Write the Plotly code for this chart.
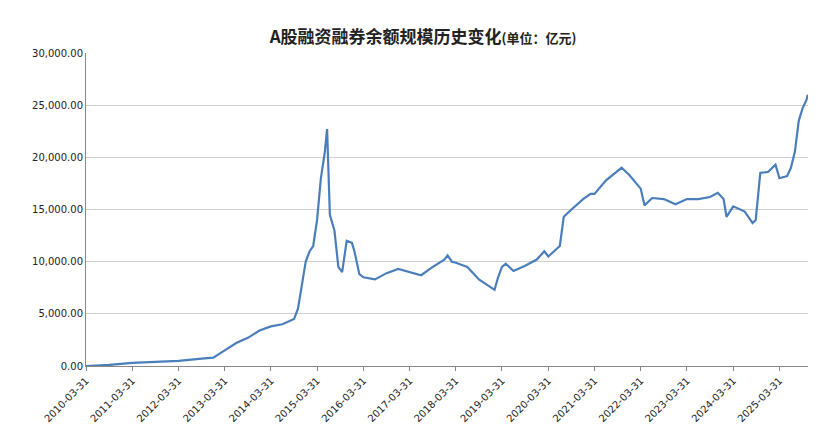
import plotly.graph_objects as go

dates = ["2010-03-31","2010-09-30","2011-03-31","2011-09-30","2012-03-31","2012-09-30","2012-12-31",
"2013-03-31","2013-06-30","2013-09-30","2013-12-31","2014-03-31","2014-06-30","2014-09-30","2014-10-31",
"2014-12-31","2015-01-31","2015-02-28","2015-03-31","2015-04-30","2015-05-31","2015-06-18","2015-07-10",
"2015-08-15","2015-09-15","2015-10-15","2015-11-20","2015-12-31","2016-01-20","2016-02-28","2016-03-31",
"2016-06-30","2016-09-30","2016-12-31","2017-03-31","2017-06-30","2017-09-30","2017-12-31","2018-01-25",
"2018-02-28","2018-03-31","2018-06-30","2018-09-30","2018-12-31","2019-01-31","2019-02-28","2019-03-31",
"2019-04-30","2019-06-30","2019-09-30","2019-12-31","2020-02-28","2020-03-31","2020-06-30","2020-07-31",
"2020-09-30","2020-12-31","2021-02-28","2021-03-31","2021-06-30","2021-09-30","2021-10-31","2021-12-31",
"2022-03-31","2022-04-30","2022-06-30","2022-09-30","2022-12-31","2023-03-31","2023-06-30","2023-09-30",
"2023-11-30","2024-01-15","2024-02-07","2024-03-31","2024-06-30","2024-08-31","2024-09-25","2024-10-31",
"2024-12-31","2025-02-28","2025-03-31","2025-05-31","2025-06-30","2025-07-31","2025-08-31","2025-09-30",
"2025-10-31","2025-11-10"]
values = [0,100,300,400,500,700,800,
1500,2200,2700,3400,3800,4000,4500,5500,
10000,11000,11500,14000,18000,20500,22700,14500,
13000,9500,9000,12000,11800,11000,8800,8500,
8300,8900,9300,9000,8700,9500,10200,10600,
10000,9900,9500,8300,7600,7300,8500,9500,
9800,9100,9600,10200,11000,10500,11500,14300,
15000,16000,16500,16500,17800,18700,19000,18300,
17000,15400,16100,16000,15500,16000,16000,16200,
16600,16000,14300,15300,14800,13700,14000,18500,
18600,19300,18000,18200,19000,20500,23500,24700,
25500,26000]
tick_dates = [f"{y}-03-31" for y in range(2010, 2026)]

fig = go.Figure(go.Scatter(x=dates, y=values, mode="lines",
                           line=dict(color="#4a7ebb", width=2.2)))
fig.update_layout(
    width=830, height=443, plot_bgcolor="white", paper_bgcolor="white",
    margin=dict(l=78, r=30, t=45, b=85),
    font=dict(family="DejaVu Sans", size=10, color="#222"),
    title=dict(text="<b>A股融资融券余额规模历史变化<span style='font-size:13px'>(单位：亿元)</span></b>",
               x=0.5, y=0.935, yanchor="middle", xanchor="center", font=dict(size=17, family="Noto Sans CJK SC")),
    showlegend=False,
)
fig.update_xaxes(type="date", range=["2010-03-31", "2025-11-12"], tickvals=tick_dates,
                 ticktext=tick_dates, tickangle=-45, showgrid=False, showline=True,
                 linecolor="#888", ticks="outside", tickcolor="#888", ticklen=4)
fig.update_yaxes(range=[0, 30000], dtick=5000, tickformat=",.2f", showgrid=True,
                 gridcolor="#d0d0d0", showline=True, linecolor="#888", zeroline=False)
fig.write_html("out.html")
